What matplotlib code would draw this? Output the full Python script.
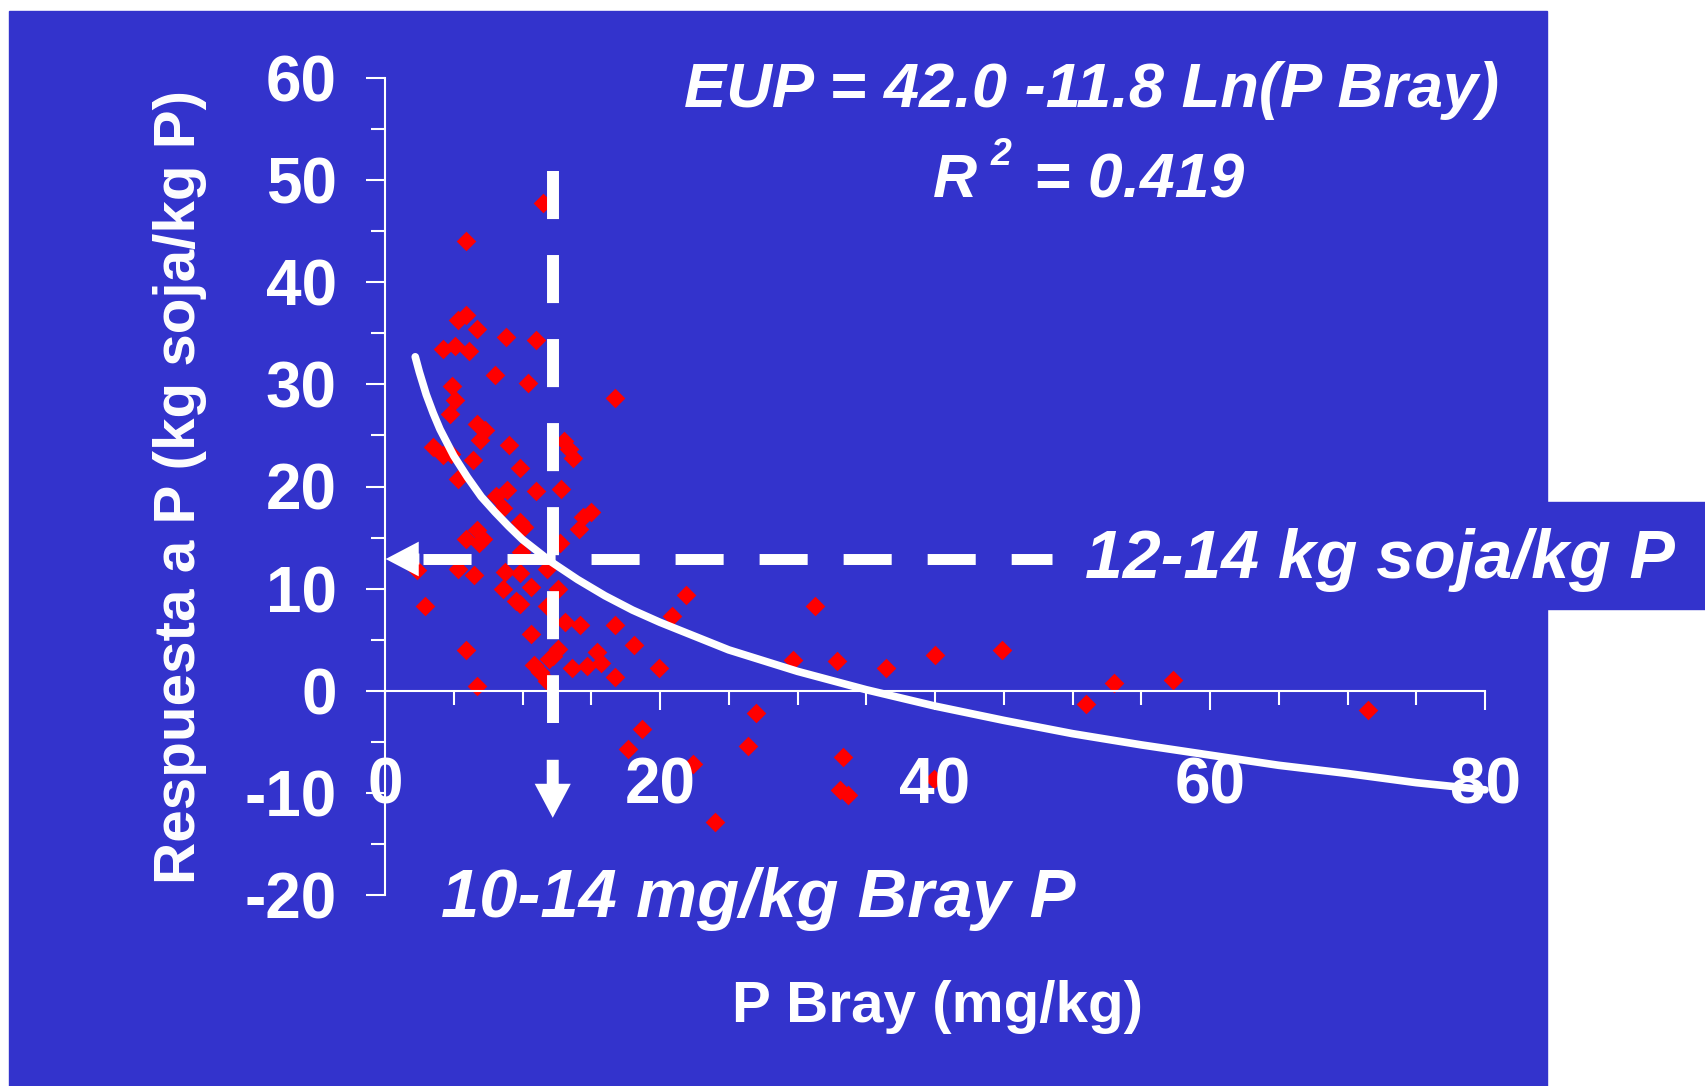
import matplotlib
matplotlib.use("Agg")
import matplotlib.pyplot as plt
from matplotlib.patches import Rectangle
from matplotlib.ticker import MultipleLocator

# --- datos ---
P_BRAY = [11.5, 5.9, 5.9, 5.3, 6.7, 8.8, 11.0, 4.2, 5.1, 6.1, 8.0, 10.4, 16.7, 4.9,
          5.1, 4.7, 6.7, 7.3, 6.9, 9.0, 3.5, 4.2, 4.8, 6.4, 13.0, 13.4, 13.7, 9.8,
          5.3, 8.9, 8.1, 11.0, 12.8, 8.6, 15.0, 14.4, 9.8, 10.1, 14.1, 6.7, 7.1,
          6.8, 5.9, 12.7, 9.9, 2.3, 5.3, 6.5, 8.7, 9.8, 11.8, 8.6, 10.6, 12.6, 9.5,
          9.8, 11.8, 2.9, 21.9, 20.9, 13.1, 14.2, 16.7, 10.6, 18.1, 12.6, 12.2,
          11.9, 5.9, 15.4, 15.7, 10.8, 11.3, 11.8, 13.6, 14.7, 16.7, 19.9, 6.7,
          18.7, 17.7, 22.4, 31.3, 29.7, 32.9, 36.4, 40.0, 44.9, 53.0, 57.3, 51.0,
          71.5, 27.0, 26.4, 33.3, 33.1, 33.7, 24.0, 39.9]
EUP = [47.8, 44.0, 36.8, 36.3, 35.4, 34.6, 34.3, 33.5, 33.8, 33.3, 30.9, 30.1, 28.7, 29.8,
       28.5, 27.1, 26.1, 25.5, 24.6, 24.1, 23.9, 23.1, 23.2, 22.6, 24.5, 23.7, 22.8, 21.8,
       20.7, 19.7, 19.1, 19.6, 19.8, 17.9, 17.5, 17.0, 16.5, 16.0, 15.8, 15.7, 14.9,
       14.5, 14.9, 14.5, 13.6, 11.8, 11.9, 11.3, 11.6, 11.5, 11.9, 10.0, 10.2, 10.0, 8.8,
       8.5, 8.3, 8.3, 9.4, 7.3, 6.7, 6.4, 6.4, 5.6, 4.5, 4.1, 3.4,
       3.1, 4.0, 3.8, 2.7, 2.5, 1.8, 1.0, 2.2, 2.4, 1.3, 2.2, 0.5,
       -3.7, -5.7, -7.2, 8.3, 3.0, 2.9, 2.2, 3.5, 4.0, 0.8, 1.1, -1.3,
       -1.9, -2.2, -5.4, -6.5, -9.7, -10.2, -12.9, -8.6]

# curva de tendencia logaritmica (leida sobre la linea blanca)
CURVE_X = [2.2, 2.5, 3, 3.5, 4, 5, 6, 7, 8, 9, 10, 12, 14, 16, 18, 20, 25, 30, 35,
           40, 45, 50, 55, 60, 65, 70, 75, 80]
CURVE_Y = [32.7, 31.2, 29.0, 27.2, 25.6, 23.0, 20.9, 19.0, 17.5, 16.1, 14.8, 12.7, 10.9,
           9.3, 7.9, 6.7, 4.0, 1.9, 0.1, -1.5, -2.9, -4.2, -5.3, -6.3, -7.3, -8.1,
           -9.0, -9.7]

# umbrales marcados con flechas
UMBRAL_X = 12.2          # mg/kg Bray P
UMBRAL_Y = 12.9          # kg soja/kg P
X_TICKS = [0, 20, 40, 60, 80]
Y_TICKS = [-20, -10, 0, 10, 20, 30, 40, 50, 60]

BLUE = "#3333CC"
W, H = 1705, 1086

plt.rcParams["font.family"] = ["Liberation Sans", "DejaVu Sans"]
plt.rcParams["font.weight"] = "bold"
plt.rcParams["axes.unicode_minus"] = False
plt.rcParams["lines.scale_dashes"] = False


def fx(px):
    return px / W


def fy(py):
    return 1 - py / H


fig = plt.figure(figsize=(W / 100, H / 100), dpi=100, facecolor="white")
# fondo azul + caja lateral para la etiqueta
fig.patches.append(Rectangle((fx(9), 0), fx(1547 - 9), (H - 11) / H,
                             transform=fig.transFigure, color=BLUE, zorder=-2))
fig.patches.append(Rectangle((fx(1547), fy(609)), fx(W - 1547), (609 - 502) / H,
                             transform=fig.transFigure, color=BLUE, zorder=-2))

ax = fig.add_axes([fx(385), fy(895), fx(1100), (895 - 78) / H])
ax.patch.set_visible(False)
ax.set_xlim(0, 80)
ax.set_ylim(-20, 60)

for s in ["top", "right"]:
    ax.spines[s].set_visible(False)
ax.spines["bottom"].set_position(("data", 0))
ax.spines["left"].set_position(("data", 0))
for s in ["bottom", "left"]:
    ax.spines[s].set_color("white")
    ax.spines[s].set_linewidth(1.5)

ax.set_xticks(X_TICKS)
ax.set_yticks(Y_TICKS)
ax.xaxis.set_minor_locator(MultipleLocator(5))
ax.yaxis.set_minor_locator(MultipleLocator(5))
ax.tick_params(which="both", colors="white", width=1.5, direction="out")
ax.tick_params(which="major", length=13.7, labelsize=46)
ax.tick_params(which="minor", length=10)
ax.tick_params(axis="x", which="major", pad=34)
ax.tick_params(axis="y", which="major", pad=21)
for lab in ax.get_xticklabels() + ax.get_yticklabels():
    lab.set_fontweight("bold")
ax.xaxis.set_zorder(5)
ax.yaxis.set_zorder(5)

ax.scatter(P_BRAY, EUP, marker="D", s=10 ** 2, color="#FF0000", linewidths=0,
           zorder=2, clip_on=False)
ax.plot(CURVE_X, CURVE_Y, color="white", lw=5.5, zorder=3, solid_capstyle="round",
        clip_on=False)

# lineas de trazos hasta los umbrales
ax.plot([2.74, 48.5], [UMBRAL_Y, UMBRAL_Y], color="white", lw=7.9,
        dashes=(34.6, 25.9), dash_capstyle="butt", zorder=4, clip_on=False)
ax.plot([UMBRAL_X, UMBRAL_X], [50.86, -3.13], color="white", lw=8.6,
        dashes=(34.6, 25.9), dash_capstyle="butt", zorder=4, clip_on=False)
ax.annotate("", xy=(0.05, UMBRAL_Y), xytext=(2.5, UMBRAL_Y),
            arrowprops=dict(facecolor="white", edgecolor="none", width=7.9,
                            headwidth=25, headlength=23.8, shrink=0), zorder=4)
ax.annotate("", xy=(UMBRAL_X, -12.44), xytext=(UMBRAL_X, -6.76),
            arrowprops=dict(facecolor="white", edgecolor="none", width=8.6,
                            headwidth=26, headlength=24.5, shrink=0), zorder=4)

ax.set_xlabel("P Bray (mg/kg)", color="white", fontsize=42, fontweight="bold")
ax.xaxis.set_label_coords(fx(937), fy(1022), transform=fig.transFigure)
ax.xaxis.label.set_va("baseline")
ax.set_ylabel("Respuesta a P (kg soja/kg P)", color="white", fontsize=42,
              fontweight="bold")
ax.yaxis.set_label_coords(fx(195), fy(487), transform=fig.transFigure)
ax.yaxis.label.set_va("baseline")

txt = dict(color="white", fontweight="bold", style="italic", transform=fig.transFigure)
fig.text(fx(1092), fy(107), "EUP = 42.0 -11.8 Ln(P Bray)", fontsize=45.5,
         ha="center", va="baseline", **txt)
fig.text(fx(933), fy(197), "R", fontsize=44, ha="left", va="baseline", **txt)
fig.text(fx(991), fy(165), "2", fontsize=27, ha="left", va="baseline", **txt)
fig.text(fx(1034), fy(197), "= 0.419", fontsize=45, ha="left", va="baseline", **txt)
fig.text(fx(1380), fy(578), "12-14 kg soja/kg P", fontsize=49, ha="center",
         va="baseline", **txt)
fig.text(fx(758), fy(917), "10-14 mg/kg Bray P", fontsize=49.5, ha="center",
         va="baseline", **txt)

fig.savefig("out.png", dpi=100, facecolor=fig.get_facecolor())
